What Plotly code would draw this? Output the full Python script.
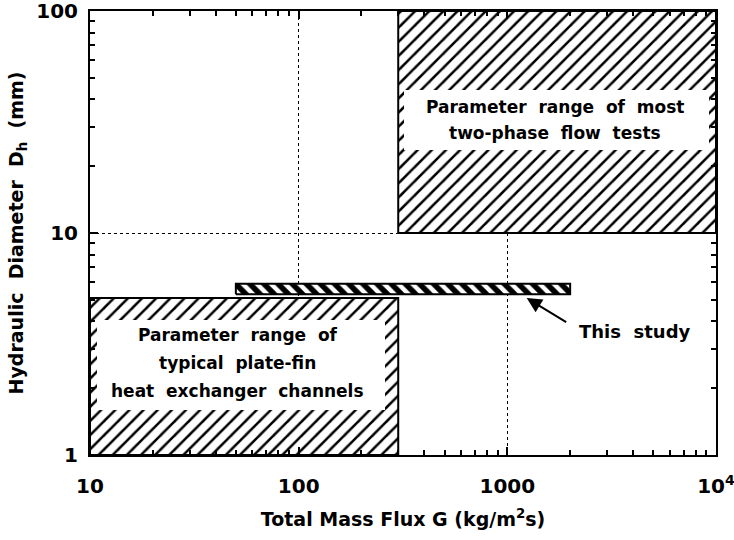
import numpy as np
import plotly.graph_objects as go

# ---- data ----
# rectangles: [G_min, G_max], [Dh_min, Dh_max]
two_phase_G = [300, 10000]
two_phase_D = [10, 100]
plate_fin_G = [10, 300]
plate_fin_D = [1, 5.1]
study_G = [50, 2000]
study_D = [5.3, 5.9]

x_tickvals = [10, 100, 1000, 10000]
x_ticktext = ["10", "100", "1000", "10<sup>4</sup>"]
y_tickvals = [1, 10, 100]
y_ticktext = ["1", "10", "100"]

FONT = "DejaVu Sans"
NB = "\u00a0 "  # widened word gap


def rect(xr, yr):
    xs = [xr[0], xr[1], xr[1], xr[0], xr[0]]
    ys = [yr[0], yr[0], yr[1], yr[1], yr[0]]
    return xs, ys


fig = go.Figure()

for (gx, dy, shape, sol) in [
    (two_phase_G, two_phase_D, "/", 0.25),
    (plate_fin_G, plate_fin_D, "/", 0.25),
    (study_G, study_D, "\\", 0.55),
]:
    xs, ys = rect(gx, dy)
    fig.add_trace(go.Scatter(
        x=xs, y=ys, mode="lines", fill="toself", fillcolor="white",
        fillpattern=dict(shape=shape, fgcolor="black", bgcolor="white",
                         size=10, solidity=sol, fgopacity=1),
        line=dict(color="black", width=2), hoverinfo="skip", showlegend=False,
    ))

minor_x = [k * 10 ** e for e in range(1, 4) for k in range(2, 10)]
minor_y = [k * 10 ** e for e in range(0, 2) for k in range(2, 10)]

axis_common = dict(
    type="log", showline=True, linecolor="black", linewidth=2, mirror="ticks",
    ticks="inside", ticklen=8, tickwidth=1.5, tickcolor="black",
    showgrid=True, gridcolor="black", gridwidth=1, griddash="dot",
    zeroline=False, ticklabeloverflow="allow", automargin=False,
    tickfont=dict(family=FONT, size=20, color="black", weight="bold"),
)

fig.update_xaxes(
    **axis_common, range=[1, 4], tickmode="array",
    tickvals=x_tickvals, ticktext=x_ticktext, ticklabelstandoff=12,
    minor=dict(tickmode="array", tickvals=minor_x, ticks="inside", ticklen=5,
               tickwidth=1.5, tickcolor="black", showgrid=False),
    title=dict(text="Total Mass Flux G (kg/m<sup>2</sup>s)", standoff=16,
               font=dict(family=FONT, size=19, color="black", weight="bold")),
)
fig.update_yaxes(
    **axis_common, range=[0, 2], tickmode="array",
    tickvals=y_tickvals, ticktext=y_ticktext, ticklabelstandoff=6,
    minor=dict(tickmode="array", tickvals=minor_y, ticks="inside", ticklen=5,
               tickwidth=1.5, tickcolor="black", showgrid=False),
    title=dict(text="Hydraulic" + NB + "Diameter" + NB + "D<sub>h</sub>" + NB + "(mm)",
               standoff=8,
               font=dict(family=FONT, size=19, color="black", weight="bold")),
)

txt_font = dict(family=FONT, size=17, color="black", weight="bold")

annotations = []
# white panels behind the texts
annotations.append(dict(xref="paper", yref="paper", x=0.746, y=0.7545,
                        xanchor="center", yanchor="middle",
                        text="\u00a0", showarrow=False, width=305, height=60,
                        bgcolor="white", borderpad=0, borderwidth=0))
annotations.append(dict(xref="paper", yref="paper", x=0.241, y=0.2027,
                        xanchor="center", yanchor="middle",
                        text="\u00a0", showarrow=False, width=288, height=90,
                        bgcolor="white", borderpad=0, borderwidth=0))
# text lines
top_lines = ["Parameter" + NB + "range" + NB + "of" + NB + "most",
             "two-phase" + NB + "flow" + NB + "tests"]
top_y = [0.7838, 0.7252]
for t, yy in zip(top_lines, top_y):
    annotations.append(dict(xref="paper", yref="paper", x=0.743, y=yy, text=t,
                            xanchor="center", yanchor="middle",
                            showarrow=False, font=txt_font))
bot_lines = ["Parameter" + NB + "range" + NB + "of",
             "typical" + NB + "plate-fin",
             "heat" + NB + "exchanger" + NB + "channels"]
bot_y = [0.2703, 0.2072, 0.1441]
for t, yy in zip(bot_lines, bot_y):
    annotations.append(dict(xref="paper", yref="paper", x=0.236, y=yy, text=t,
                            xanchor="center", yanchor="middle",
                            showarrow=False, font=txt_font))
# "This study"
annotations.append(dict(xref="paper", yref="paper", x=0.778, y=0.279,
                        xanchor="left", yanchor="middle",
                        text="This" + NB + "study", showarrow=False,
                        font=dict(family=FONT, size=18, color="black", weight="bold")))
annotations.append(dict(xref="paper", yref="paper", x=0.6976, y=0.3536,
                        text="", showarrow=True, ax=41, ay=25,
                        arrowhead=2, arrowsize=1.5, arrowwidth=2,
                        arrowcolor="black", standoff=0))

fig.update_layout(
    width=734, height=540,
    margin=dict(l=90, r=18, t=11, b=85),
    paper_bgcolor="white", plot_bgcolor="white",
    annotations=annotations,
    showlegend=False,
)

fig.write_html("out.html")
